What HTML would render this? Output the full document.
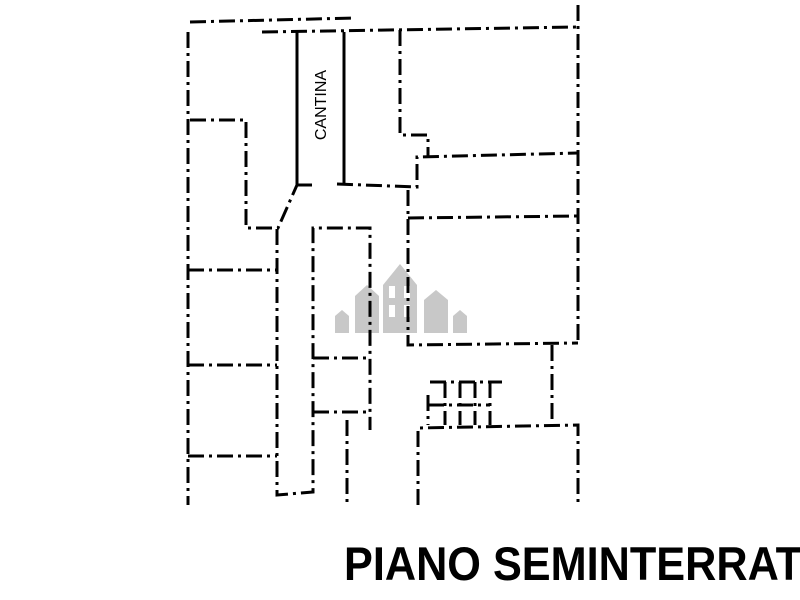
<!DOCTYPE html>
<html><head><style>
html,body{margin:0;padding:0;background:#fff;width:800px;height:600px;overflow:hidden}
svg{position:absolute;left:0;top:0}
.t{position:absolute;left:344px;top:540px;font:bold 47px/1 "Liberation Sans",sans-serif;white-space:nowrap;color:#000;transform:scaleX(0.92);transform-origin:0 0}
</style></head><body>
<svg width="800" height="600" viewBox="0 0 800 600">
<g fill="#c8c8c8">
<path d="M383,333 V285 L400,264 L417,285 V333Z"/>
<path d="M355,333 V296 L367,285 L379,296 V333Z"/>
<path d="M424,333 V300 L436,290 L448,300 V333Z"/>
<path d="M335,333 V316 L342,310 L349,316 V333Z"/>
<path d="M453,333 V316 L460,310 L467,316 V333Z"/>
</g>
<g fill="#fff"><rect x="389" y="286" width="6" height="12"/><rect x="389" y="305" width="6" height="12"/><rect x="404" y="286" width="6" height="12"/><rect x="404" y="305" width="6" height="12"/></g>
<g stroke="#000" stroke-width="3" fill="none" stroke-dasharray="16 5 3 5">
<path d="M190,22 L355,18"/>
<path d="M262,32 L578,27"/>
<path d="M188,32 V505"/>
<path d="M578,5 V345"/>
<path d="M312,185 H297 M337,184 L417,187 V157 L578,153"/>
<path d="M400,30 V135 H428 V157"/>
<path d="M408,190 V345 L578,343"/>
<path d="M408,218 L578,216"/>
<path d="M190,120 H246 V228 H278 L297,185"/>
<path d="M277,229 V495 L313,492 V228 H370 V430"/>
<path d="M188,270 H277 M188,365 H277 M188,456 H277"/>
<path d="M313,358 H370 M313,412 H370 M347,420 V505"/>
<path d="M552,345 V425"/>
<path d="M418,505 V428 L578,425 V505"/>
<path d="M430,382 H502 M428,395 V425 M445,382 V425 M460,382 V425 M475,382 V425 M490,382 V425 M428,405 H490"/>
</g>
<g stroke="#000" stroke-width="3" fill="none">
<path d="M297,32 V185 M344,32 V185"/>
</g>
<text x="326" y="105" transform="rotate(-90 326 105)" text-anchor="middle" font-family="Liberation Sans, sans-serif" font-size="16">CANTINA</text>
</svg>
<div class="t">PIANO SEMINTERRATO</div>
</body></html>
